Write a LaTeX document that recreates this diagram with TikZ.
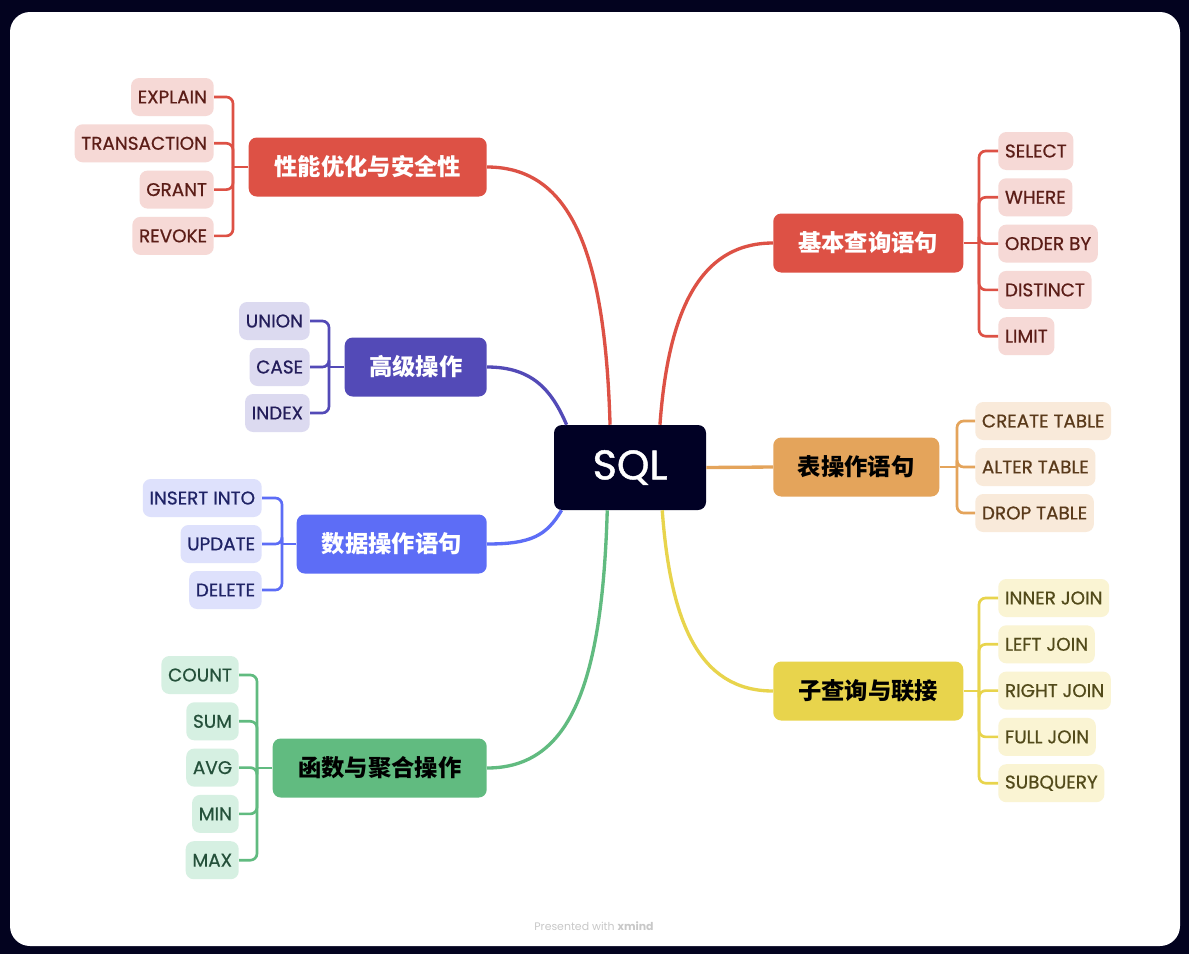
\documentclass[tikz,border=0pt]{standalone}
\usepackage{fontspec}
\setmainfont{Poppins}
\newfontfamily\cjk{Noto Sans CJK SC}
\newfontfamily\leaffont{Poppins}[FakeBold=0.7]
\newfontfamily\rootfont{Poppins}[FakeBold=1.1]
\usetikzlibrary{positioning}

\definecolor{framenavy}{HTML}{03031F}
\definecolor{sqlnavy}{HTML}{010125}
\definecolor{redmain}{HTML}{DD5145}
\definecolor{redlight}{HTML}{F6D9D6}
\definecolor{reddark}{HTML}{5B1D17}
\definecolor{purplemain}{HTML}{534AB7}
\definecolor{purplelight}{HTML}{DCDAF0}
\definecolor{purpledark}{HTML}{231D5A}
\definecolor{bluemain}{HTML}{5D6DF6}
\definecolor{bluelight}{HTML}{DEE1FC}
\definecolor{bluedark}{HTML}{1F2366}
\definecolor{greenmain}{HTML}{61BB80}
\definecolor{greenlight}{HTML}{D6F0E2}
\definecolor{greendark}{HTML}{24503A}
\definecolor{orangemain}{HTML}{E4A45B}
\definecolor{orangelight}{HTML}{F9EADA}
\definecolor{orangedark}{HTML}{5A3A1A}
\definecolor{yellowmain}{HTML}{E8D44C}
\definecolor{yellowlight}{HTML}{FAF4D3}
\definecolor{yellowdark}{HTML}{524A1A}
\definecolor{footgray}{HTML}{C8C8C8}

\tikzset{
  topic/.style={rounded corners=6pt, minimum height=44.25pt, inner sep=0pt,
    font=\cjk\bfseries\fontsize{17.5}{20}\selectfont},
  leaf/.style={rounded corners=6pt, minimum height=28.5pt, inner xsep=5pt,
    inner ysep=0pt, font=\leaffont\fontsize{13.8}{15}\selectfont},
  branch/.style={line width=2.5pt},
  twig/.style={line width=2pt, rounded corners=5pt},
}

\begin{document}
\begin{tikzpicture}[x=0.75pt, y=-0.75pt]
    \useasboundingbox (0,0) rectangle (1189,954);
    \fill[framenavy] (0,0) rectangle (1189,954);
    \fill[white, rounded corners=15pt] (10,12) rectangle (1180,946);

    % centre
    \node[fill=sqlnavy, text=white, rounded corners=6pt, minimum width=114pt,
      minimum height=63.75pt, font=\rootfont\fontsize{31}{34}\selectfont] (sql) at (630,467.5) {SQL};

    % main topics
    \node[topic, fill=redmain, text=white, minimum width=178.5pt, anchor=east] (perf) at (487,167) {性能优化与安全性};
    \node[topic, fill=purplemain, text=white, minimum width=106.5pt, anchor=east] (adv) at (487,367) {高级操作};
    \node[topic, fill=bluemain, text=white, minimum width=142.5pt, anchor=east] (dml) at (487,544) {数据操作语句};
    \node[topic, fill=greenmain, text=black, minimum width=160.5pt, anchor=east] (func) at (487,768) {函数与聚合操作};
    \node[topic, fill=redmain, text=white, minimum width=142.5pt, anchor=west] (basic) at (773,243) {基本查询语句};
    \node[topic, fill=orangemain, text=black, minimum width=124.5pt, anchor=west] (tbl) at (773,467) {表操作语句};
    \node[topic, fill=yellowmain, text=black, minimum width=142.5pt, anchor=west] (join) at (773,691) {子查询与联接};

    % branches from SQL
    \draw[branch, redmain] (sql.115) .. controls +(-5,-170) and +(85,0) .. (perf.east);
    \draw[branch, purplemain] (sql.146) .. controls +(-15,-35) and +(45,0) .. (adv.east);
    \draw[branch, bluemain] (sql.212) .. controls +(-15,25) and +(45,0) .. (dml.east);
    \draw[branch, greenmain] (sql.242) .. controls +(-5,170) and +(85,0) .. (func.east);
    \draw[branch, redmain] (sql.55) .. controls +(8,-110) and +(-75,0) .. (basic.west);
    \draw[branch, orangemain] (sql.east) -- (tbl.west);
    \draw[branch, yellowmain] (sql.307) .. controls +(8,110) and +(-75,0) .. (join.west);

    % leaves, left side
    \coordinate (perfbar) at (233,167);
    \draw[twig, redmain] (perf.west) -- (perfbar);
    \foreach \t [count=\i from 0] in {EXPLAIN,TRANSACTION,GRANT,REVOKE} {
      \node[leaf, fill=redlight, text=reddark, anchor=east] (perf\i) at (214,97+46.3*\i) {\t};
      \draw[twig, redmain] (perfbar) |- (perf\i.east);
    }
    \coordinate (advbar) at (329,367);
    \draw[twig, purplemain] (adv.west) -- (advbar);
    \foreach \t [count=\i from 0] in {UNION,CASE,INDEX} {
      \node[leaf, fill=purplelight, text=purpledark, anchor=east] (adv\i) at (310,321+46*\i) {\t};
      \draw[twig, purplemain] (advbar) |- (adv\i.east);
    }
    \coordinate (dmlbar) at (282,544);
    \draw[twig, bluemain] (dml.west) -- (dmlbar);
    \foreach \t [count=\i from 0] in {INSERT INTO,UPDATE,DELETE} {
      \node[leaf, fill=bluelight, text=bluedark, anchor=east] (dml\i) at (262,498+46*\i) {\t};
      \draw[twig, bluemain] (dmlbar) |- (dml\i.east);
    }
    \coordinate (funcbar) at (257,768);
    \draw[twig, greenmain] (func.west) -- (funcbar);
    \foreach \t [count=\i from 0] in {COUNT,SUM,AVG,MIN,MAX} {
      \node[leaf, fill=greenlight, text=greendark, anchor=east] (func\i) at (239,675+46.3*\i) {\t};
      \draw[twig, greenmain] (funcbar) |- (func\i.east);
    }

    % leaves, right side
    \coordinate (basicbar) at (979,243);
    \draw[twig, redmain] (basic.east) -- (basicbar);
    \foreach \t [count=\i from 0] in {SELECT,WHERE,ORDER BY,DISTINCT,LIMIT} {
      \node[leaf, fill=redlight, text=reddark, anchor=west] (basic\i) at (998,151+46.3*\i) {\t};
      \draw[twig, redmain] (basicbar) |- (basic\i.west);
    }
    \coordinate (tblbar) at (957,467);
    \draw[twig, orangemain] (tbl.east) -- (tblbar);
    \foreach \t [count=\i from 0] in {CREATE TABLE,ALTER TABLE,DROP TABLE} {
      \node[leaf, fill=orangelight, text=orangedark, anchor=west] (tbl\i) at (975,421+46*\i) {\t};
      \draw[twig, orangemain] (tblbar) |- (tbl\i.west);
    }
    \coordinate (joinbar) at (979,691);
    \draw[twig, yellowmain] (join.east) -- (joinbar);
    \foreach \t [count=\i from 0] in {INNER JOIN,LEFT JOIN,RIGHT JOIN,FULL JOIN,SUBQUERY} {
      \node[leaf, fill=yellowlight, text=yellowdark, anchor=west] (join\i) at (998,598+46.3*\i) {\t};
      \draw[twig, yellowmain] (joinbar) |- (join\i.west);
    }

    \node[text=footgray, font=\fontsize{8.2}{10}\selectfont] (credit) at (594,926) {Presented with \textbf{xmind}};
  \end{tikzpicture}
\end{document}
